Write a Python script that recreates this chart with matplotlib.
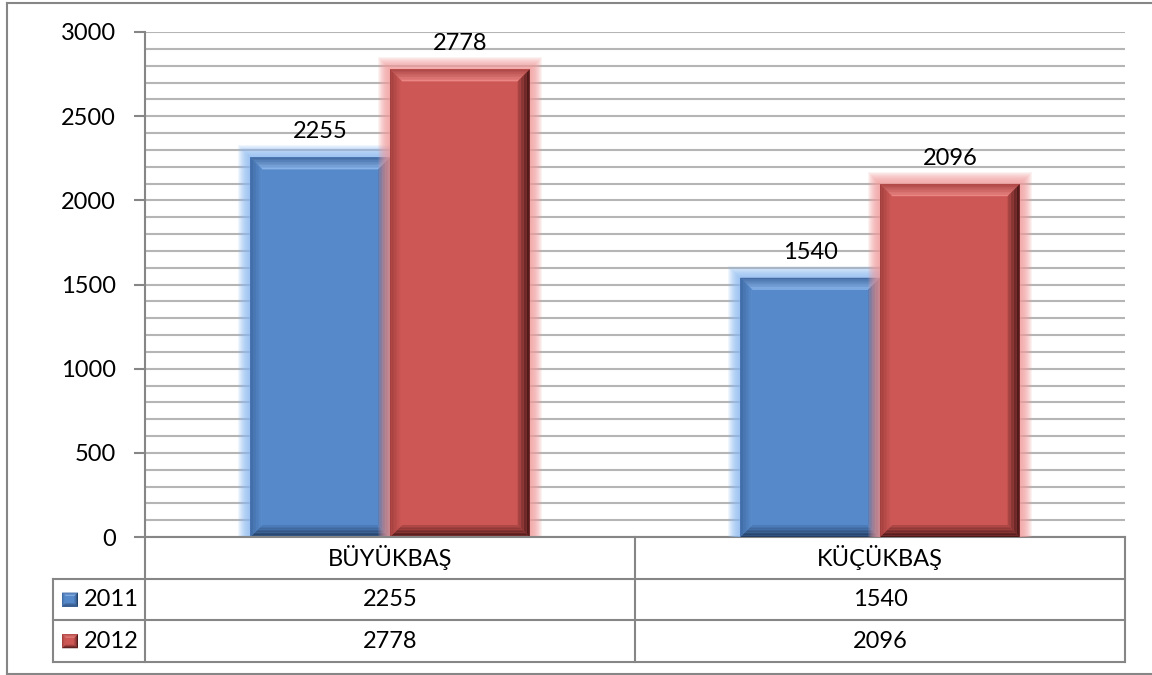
import matplotlib
matplotlib.use('Agg')
import matplotlib.pyplot as plt
from matplotlib.patches import Rectangle, Polygon
from matplotlib.lines import Line2D
import numpy as np

# ---------------- data ----------------
categories = ['BÜYÜKBAŞ', 'KÜÇÜKBAŞ']
series_names = ['2011', '2012']
values_2011 = [2255, 1540]
values_2012 = [2778, 2096]
yticks = [0, 500, 1000, 1500, 2000, 2500, 3000]

series_values = [values_2011, values_2012]

# ---------------- style ----------------
plt.rcParams['font.family'] = ['Lato', 'DejaVu Sans']
FS = 17
GRAY = '#868686'

STYLES = [
    dict(main='#5689C9', top=('#40689F', '#8DB8EE'), left=('#3D68A1', '#5A8DCD'),
         right=('#1E3557', '#4C7CBA'), bottom=('#21395C', '#4E7FBE'), glow='#8EBBF2'),
    dict(main='#CD5755', top=('#A84442', '#EE8A88'), left=('#9E3E3C', '#CF5957'),
         right=('#3A1010', '#B04846'), bottom=('#451414', '#B34A48'), glow='#F39C9C'),
]

W, H = 1152, 675
fig = plt.figure(figsize=(W / 100, H / 100), dpi=100)

L, R, T, B = 145, 1125, 32, 537   # plot area in pixels
ax = fig.add_axes([L / W, 1 - B / H, (R - L) / W, (B - T) / H])
ax.set_xlim(-0.5, len(categories) - 0.5)
ax.set_ylim(yticks[0], yticks[-1])

sx = (len(categories)) / (R - L)          # data units per pixel (x)
sy = (yticks[-1] - yticks[0]) / (B - T)   # data units per pixel (y)

ax.set_yticks(yticks)
ax.set_yticks(np.arange(yticks[0], yticks[-1] + 1, 100), minor=True)
ax.yaxis.grid(True, which='both', color='#b5b5b5', lw=1.5, zorder=0)
ax.set_axisbelow(True)
ax.tick_params(axis='y', which='major', length=8, width=1.5, color=GRAY,
               labelsize=FS, pad=13)
ax.tick_params(axis='y', which='minor', length=0)
ax.set_xticks([])
for s in ['top', 'right']:
    ax.spines[s].set_visible(False)
for s in ['left', 'bottom']:
    ax.spines[s].set_color(GRAY)
    ax.spines[s].set_linewidth(1.5)
    ax.spines[s].set_zorder(5)


def lerp(a, b, t):
    return (a[0] + (b[0] - a[0]) * t, a[1] + (b[1] - a[1]) * t)


def mix(c1, c2, t):
    a = np.array(matplotlib.colors.to_rgb(c1))
    b = np.array(matplotlib.colors.to_rgb(c2))
    return tuple(a + (b - a) * t)


def bevel_box(artist_add, x0, y0, x1, y1, bx, by, st, transform, n=8, z=3):
    artist_add(Rectangle((x0, y0), x1 - x0, y1 - y0, facecolor=st['main'],
                         edgecolor='none', transform=transform, zorder=z))
    O = [(x0, y1), (x1, y1), (x1, y0), (x0, y0)]
    I = [(x0 + bx, y1 - by), (x1 - bx, y1 - by), (x1 - bx, y0 + by), (x0 + bx, y0 + by)]
    sides = [('top', 0, 1), ('right', 1, 2), ('bottom', 2, 3), ('left', 3, 0)]
    for name, a, b in sides:
        co, ci = st[name]
        for k in range(n):
            t0, t1 = k / n, (k + 1) / n
            pts = [lerp(O[a], I[a], t0), lerp(O[b], I[b], t0),
                   lerp(O[b], I[b], t1), lerp(O[a], I[a], t1)]
            artist_add(Polygon(pts, closed=True, facecolor=mix(co, ci, (k + 0.5) / n),
                               edgecolor='none', transform=transform, zorder=z + 0.1,
                               antialiased=True))


bw = 0.285
nser = len(series_values)
for ci in range(len(categories)):
    for si in range(nser):
        v = series_values[si][ci]
        st = STYLES[si]
        xc = ci + (si - (nser - 1) / 2) * bw
        x0, x1 = xc - bw / 2, xc + bw / 2
        zb = 3 + si + ci * 3
        for d in range(1, 13):
            ax.add_patch(Rectangle((x0 - d * sx, 0), bw + 2 * d * sx, v + d * sy,
                                   facecolor=st['glow'], edgecolor='none',
                                   alpha=0.13, zorder=zb - 0.5))
        bevel_box(ax.add_patch, x0, 0, x1, v, 12 * sx, 12 * sy, st, ax.transData, z=zb)
        ax.annotate(str(v), (xc, v), xytext=(0, 19), textcoords='offset pixels',
                    ha='center', va='baseline', fontsize=FS, zorder=20)

# ---------------- data table ----------------
def fx(px):
    return px / W


def fy(py):
    return 1 - py / H


def hline(y, xa, xb):
    fig.add_artist(Line2D([fx(xa), fx(xb)], [fy(y), fy(y)], color=GRAY, lw=1.5,
                          transform=fig.transFigure))


def vline(x, ya, yb):
    fig.add_artist(Line2D([fx(x), fx(x)], [fy(ya), fy(yb)], color=GRAY, lw=1.5,
                          transform=fig.transFigure))


row_h = 41.7
rows_y = [B + row_h * k for k in range(len(series_names) + 2)]
TL = 53
col_x = [L + (R - L) * k / len(categories) for k in range(len(categories) + 1)]

for k in range(1, len(rows_y)):
    hline(rows_y[k], TL, R)
vline(TL, rows_y[1], rows_y[-1])
for x in col_x:
    vline(x, rows_y[0], rows_y[-1])

for ci, cat in enumerate(categories):
    xm = (col_x[ci] + col_x[ci + 1]) / 2
    fig.text(fx(xm), fy((rows_y[0] + rows_y[1]) / 2), cat, ha='center', va='center',
             fontsize=FS)

for si, name in enumerate(series_names):
    ym = (rows_y[si + 1] + rows_y[si + 2]) / 2
    kx0, kx1 = 62, 78
    ky0, ky1 = ym + 7, ym - 7
    bevel_box(fig.add_artist, fx(kx0), fy(ky0), fx(kx1), fy(ky1),
              3.5 / W, 3.5 / H, STYLES[si], fig.transFigure, n=3, z=10)
    fig.text(fx(84), fy(ym), name, ha='left', va='center', fontsize=FS)
    for ci in range(len(categories)):
        xm = (col_x[ci] + col_x[ci + 1]) / 2
        fig.text(fx(xm), fy(ym), str(series_values[si][ci]), ha='center',
                 va='center', fontsize=FS)

fig.add_artist(Line2D([fx(7), fx(7)], [fy(2.5), fy(673.5)], color=GRAY, lw=1.5,
                      transform=fig.transFigure))
fig.add_artist(Line2D([fx(7), fx(W)], [fy(2.5), fy(2.5)], color=GRAY, lw=1.5,
                      transform=fig.transFigure))
fig.add_artist(Line2D([fx(7), fx(W)], [fy(673.5), fy(673.5)], color=GRAY, lw=1.5,
                      transform=fig.transFigure))

fig.savefig('out.png', dpi=100)
